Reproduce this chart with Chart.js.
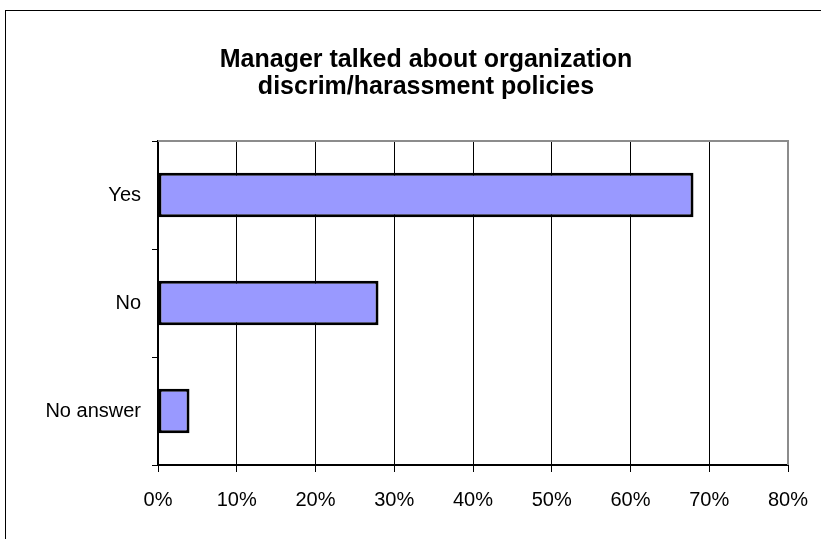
<!DOCTYPE html>
<html>
<head>
<meta charset="utf-8">
<script src="https://cdn.jsdelivr.net/npm/chart.js@4"></script>
<style>
  html, body { margin: 0; padding: 0; background: #fff; overflow: hidden; }
  .wrap { position: relative; width: 821px; height: 539px; }
  .frame { position: absolute; left: 5px; top: 10px; width: 900px; height: 600px; border: 1px solid #000; pointer-events: none; }
</style>
</head>
<body>
<div class="wrap">
  <canvas id="chart" width="821" height="539"></canvas>
  <div class="frame"></div>
</div>
<script>
const titleLines = ['Manager talked about organization', 'discrim/harassment policies']
const categories = ['Yes', 'No', 'No answer']
const shares = [68, 28, 4]
const xTicks = [0, 10, 20, 30, 40, 50, 60, 70, 80]

const FONT = '"Liberation Sans", Arial, sans-serif'

// title drawn by hand, it sits a bit right of the canvas centre
const titlePlugin = {
  id: 'manualTitle',
  afterDraw(chart) {
    const ctx = chart.ctx
    ctx.save()
    ctx.font = 'bold 25px ' + FONT
    ctx.fillStyle = '#000'
    ctx.textAlign = 'center'
    ctx.textBaseline = 'alphabetic'
    titleLines.forEach((line, i) => {
      ctx.fillText(line, 426, 67 + i * 26.5)
    })
    ctx.restore()
  }
}

// grey top and right edges of the plot area
const plotEdge = {
  id: 'plotEdge',
  beforeDatasetsDraw(chart) {
    const a = chart.chartArea
    const ctx = chart.ctx
    ctx.save()
    ctx.strokeStyle = '#8c8c8c'
    ctx.lineWidth = 2
    ctx.beginPath()
    ctx.moveTo(a.left, a.top)
    ctx.lineTo(a.right, a.top)
    ctx.lineTo(a.right, a.bottom)
    ctx.stroke()
    ctx.restore()
  }
}

new Chart(document.getElementById('chart'), {
  type: 'bar',
  data: {
    labels: categories,
    datasets: [{
      data: shares,
      backgroundColor: '#9999ff',
      borderColor: '#000',
      borderWidth: 3,
      borderSkipped: false,
      barPercentage: 0.41,
      categoryPercentage: 1
    }]
  },
  options: {
    indexAxis: 'y',
    responsive: false,
    animation: false,
    layout: { padding: { top: 141, right: 33, left: 0, bottom: 0 } },
    plugins: {
      legend: { display: false },
      title: { display: false },
      tooltip: { enabled: false }
    },
    scales: {
      x: {
        min: 0,
        max: 80,
        afterBuildTicks(scale) {
          scale.ticks = xTicks.map(v => ({ value: v }))
        },
        afterFit(scale) {
          scale.height = 74
          scale.paddingRight = 0
          scale.paddingLeft = 0
        },
        ticks: {
          callback: v => v + '%',
          color: '#000',
          font: { family: FONT, size: 20 },
          padding: 16,
          maxRotation: 0
        },
        grid: {
          color: c => (c.tick && c.tick.value === 80) ? 'rgba(0,0,0,0)' : '#000',
          tickColor: '#000',
          lineWidth: 1,
          tickLength: 7
        },
        border: { display: true, color: '#000', width: 2 }
      },
      y: {
        afterFit(scale) { scale.width = 158 },
        ticks: {
          color: '#000',
          font: { family: FONT, size: 20 },
          padding: 11
        },
        grid: {
          offset: true,
          drawOnChartArea: false,
          color: '#000',
          tickLength: 6
        },
        border: { display: true, color: '#000', width: 2 }
      }
    }
  },
  plugins: [plotEdge, titlePlugin]
})
</script>
</body>
</html>
